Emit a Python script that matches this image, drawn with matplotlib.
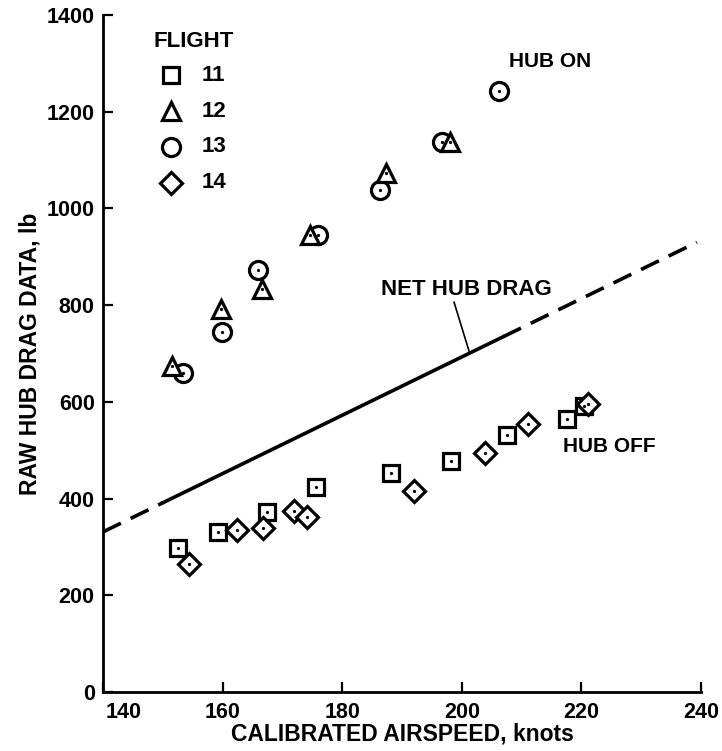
import numpy as np
import matplotlib
matplotlib.use("Agg")
import matplotlib.pyplot as plt
from matplotlib.transforms import ScaledTranslation

plt.rcParams['font.family'] = ['Liberation Sans', 'DejaVu Sans']

# Flight test data: calibrated airspeed (knots) vs raw hub drag (lb)
# Hub on
f12_on_x = [151.5, 159.7, 166.6, 174.6, 187.3, 198.0]
f12_on_y = [674, 792, 833, 945, 1073, 1137]
f13_on_x = [153.4, 159.9, 165.9, 176.0, 186.3, 196.7, 206.2]
f13_on_y = [660, 744, 873, 945, 1038, 1137, 1243]
# Hub off
f11_off_x = [152.5, 159.2, 167.4, 175.6, 188.2, 198.2, 207.6, 217.6, 220.5]
f11_off_y = [298, 331, 372, 424, 453, 478, 531, 565, 592]
f14_off_x = [154.4, 162.4, 166.8, 171.9, 174.1, 192.0, 203.9, 211.1, 221.1]
f14_off_y = [265, 335, 340, 374, 362, 416, 494, 554, 596]

# Net hub drag line (faired): solid over the tested range, dashed beyond
net_x = [140.0, 239.3]
net_y = [331.0, 930.0]
net_solid_range = [150.0, 206.9]

x_ticks = [140, 160, 180, 200, 220, 240]
y_ticks = [0, 200, 400, 600, 800, 1000, 1200, 1400]

legend_flights = ['11', '12', '13', '14']

fig = plt.figure(figsize=(7.22, 7.51), dpi=100)
ax = fig.add_axes([0.1427, 0.0786, 0.8283, 0.9014])
ax.set_xlim(140, 240)
ax.set_ylim(0, 1400)

marker_common = dict(linestyle='none', markerfacecolor='white',
                     markeredgecolor='black', markeredgewidth=2.3)
sq = dict(marker='s', markersize=12, **marker_common)
tri = dict(marker='^', markersize=13, **marker_common)
cir = dict(marker='o', markersize=13, **marker_common)
dia = dict(marker='D', markersize=11, **marker_common)

# Net hub drag line
slope = (net_y[1] - net_y[0]) / (net_x[1] - net_x[0])
def net(x):
    return net_y[0] + slope * (np.asarray(x) - net_x[0])

xa = np.array([net_x[0], net_solid_range[0]])
xb = np.array(net_solid_range)
xc = np.array([net_solid_range[1], net_x[1]])
ax.plot(xa, net(xa), color='black', lw=2.6, dashes=(5.5, 3), zorder=2)
ax.plot(xb, net(xb), color='black', lw=2.6, zorder=2)
ax.plot(xc, net(xc), color='black', lw=2.6, dashes=(5.5, 3), zorder=2)

# Data markers
ax.plot(f11_off_x, f11_off_y, zorder=3, **sq)
ax.plot(f14_off_x, f14_off_y, zorder=4, **dia)
ax.plot(f13_on_x, f13_on_y, zorder=3, **cir)
ax.plot(f12_on_x, f12_on_y, zorder=4, **tri)
for xs, ys in [(f11_off_x, f11_off_y), (f14_off_x, f14_off_y),
               (f13_on_x, f13_on_y), (f12_on_x, f12_on_y)]:
    ax.plot(xs, ys, linestyle='none', marker='o', markersize=1.3,
            color='black', zorder=5)

# Annotations
txt = dict(fontsize=16, fontweight='bold', color='black')
txt_hub = dict(fontsize=15, fontweight='bold', color='black')
ax.text(214.7, 1303, 'HUB ON', ha='center', va='center', **txt_hub)
ax.text(224.6, 507, 'HUB OFF', ha='center', va='center', **txt_hub)
ax.text(200.7, 832, 'NET HUB DRAG', ha='center', va='center', **txt)
ax.plot([198.7, 201.2], [806, 705], color='black', lw=1.2)

# Legend drawn as a key block
ax.text(148.4, 1345, 'FLIGHT', ha='left', va='center', **txt)
leg_styles = [sq, tri, cir, dia]
leg_y = [1275, 1201, 1128, 1053]
for st, yy, lab in zip(leg_styles, leg_y, legend_flights):
    ax.plot([151.3], [yy], clip_on=False, **st)
    ax.text(156.5, yy, lab, ha='left', va='center', **txt)

# Axes styling
for s in ['top', 'right']:
    ax.spines[s].set_visible(False)
for s in ['left', 'bottom']:
    ax.spines[s].set_linewidth(2.0)
ax.set_xticks(x_ticks)
ax.set_yticks(y_ticks)
ax.tick_params(direction='in', length=7, width=1.6, labelsize=15.5)
ax.tick_params(axis='x', pad=7)
ax.tick_params(axis='y', pad=6)
for lab in ax.get_xticklabels() + ax.get_yticklabels():
    lab.set_fontweight('bold')

# Keep the first airspeed label clear of the zero on the drag axis
first = ax.get_xticklabels()[0]
first.set_horizontalalignment('left')
first.set_transform(first.get_transform() +
                    ScaledTranslation(2 / 72, 0, fig.dpi_scale_trans))

ax.set_xlabel('CALIBRATED AIRSPEED, knots', fontsize=16.5, fontweight='bold',
              labelpad=0)
ax.set_ylabel('RAW HUB DRAG DATA, lb', fontsize=16.5, fontweight='bold',
              labelpad=4)

fig.savefig('out.png', dpi=100, facecolor='white')
